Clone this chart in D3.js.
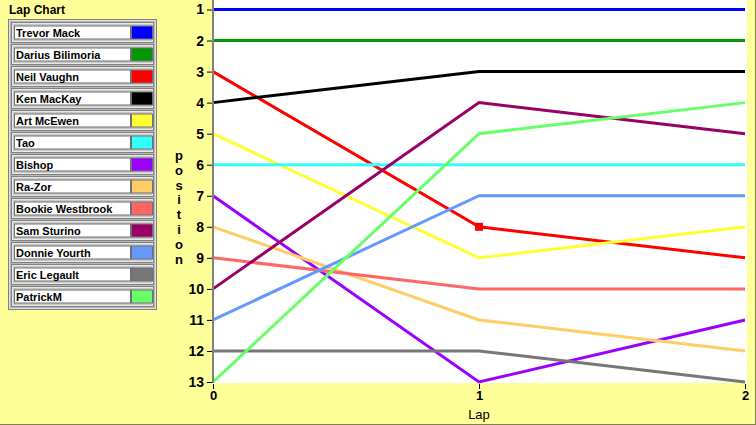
<!DOCTYPE html>
<html><head><meta charset="utf-8">
<script src="https://cdn.jsdelivr.net/npm/d3@7"></script>
<style>
html,body{margin:0;padding:0;background:#FFFF99;}
svg{display:block;}
text{font-family:"Liberation Sans",Arial,sans-serif;}
</style></head>
<body>
<svg id="c" width="756" height="425"></svg>
<script>
const drivers = ["Trevor Mack","Darius Bilimoria","Neil Vaughn","Ken MacKay","Art McEwen","Tao","Bishop","Ra-Zor","Bookie Westbrook","Sam Sturino","Donnie Yourth","Eric Legault","PatrickM"];
const colors = ["#0000FF","#009900","#FF0000","#000000","#FFFF33","#33FFFF","#9900FF","#FFCC66","#FF6666","#990066","#6699FF","#777777","#66FF66"];
const laps = [0,1,2];
const positions = [
  [1,1,1],
  [2,2,2],
  [3,8,9],
  [4,3,3],
  [5,9,8],
  [6,6,6],
  [7,13,11],
  [8,11,12],
  [9,10,10],
  [10,4,5],
  [11,7,7],
  [12,12,13],
  [13,5,4]
];
const yTicks = [1,2,3,4,5,6,7,8,9,10,11,12,13];
const xTicks = [0,1,2];
const marker = {driver:"Neil Vaughn", lap:1};

const svg = d3.select("#c");
svg.append("rect").attr("width",756).attr("height",425).attr("fill","#FFFF99");
svg.append("line").attr("x1",0).attr("x2",756).attr("y1",424.5).attr("y2",424.5).attr("stroke","#7F7F50");
svg.append("line").attr("x1",755.5).attr("x2",755.5).attr("y1",0).attr("y2",425).attr("stroke","#7F7F50");

const x = d3.scaleLinear().domain([0,2]).range([213,745]);
const y = d3.scaleLinear().domain([1,13]).range([9.5,382]);

svg.append("rect").attr("x",213).attr("y",0).attr("width",534).attr("height",383).attr("fill","#FFFFFF");

const line = d3.line().x((d,i)=>x(laps[i])).y(d=>y(d));
drivers.forEach((d,i)=>{
  svg.append("path").attr("d",line(positions[i])).attr("fill","none")
    .attr("stroke",colors[i]).attr("stroke-width",3);
});
const mi = drivers.indexOf(marker.driver);
svg.append("rect").attr("x",x(marker.lap)-4).attr("y",y(positions[mi][marker.lap])-4)
  .attr("width",8).attr("height",8).attr("fill",colors[mi]);

const yAxis = d3.axisLeft(y).tickValues(yTicks).tickSize(6).tickPadding(3).tickFormat(d3.format("d"));
const ga = svg.append("g").attr("transform","translate(213,0)").call(yAxis);
ga.select(".domain").remove();
ga.selectAll("line").attr("stroke","#000");
ga.selectAll("text").attr("font-size",14).attr("font-weight","bold").attr("fill","#000").attr("font-family","Liberation Sans");
svg.append("line").attr("x1",213).attr("x2",213).attr("y1",0).attr("y2",383).attr("stroke","#808080").attr("stroke-width",2);

const xAxis = d3.axisBottom(x).tickValues(xTicks).tickSize(5).tickPadding(2).tickFormat(d3.format("d"));
const gx = svg.append("g").attr("transform","translate(0,384)").call(xAxis);
gx.select(".domain").remove();
gx.selectAll("line").attr("stroke","#000");
gx.selectAll("text").attr("font-size",13).attr("font-weight","bold").attr("fill","#000").attr("font-family","Liberation Sans");

svg.append("text").attr("x",x(1)).attr("y",419).attr("text-anchor","middle").attr("font-size",13).text("Lap");
const word = "position";
word.split("").forEach((ch,i)=>{
  svg.append("text").attr("x",179).attr("y",160+i*14.8).attr("text-anchor","middle")
    .attr("font-size",13).attr("font-weight","bold").text(ch);
});

svg.append("text").attr("x",9).attr("y",14).attr("font-size",12).attr("font-weight","bold").text("Lap Chart");
const lg = svg.append("g");
lg.append("rect").attr("x",8.5).attr("y",19.5).attr("width",148).attr("height",290).attr("fill","#B8B8B8").attr("stroke","#808080");
lg.append("rect").attr("x",9.5).attr("y",20.5).attr("width",146).attr("height",288).attr("fill","none").attr("stroke","#E0E0E0");
drivers.forEach((d,i)=>{
  const ry = 22 + i*22;
  lg.append("rect").attr("x",11.5).attr("y",ry+0.5).attr("width",142).attr("height",20).attr("fill","#C8C8C8").attr("stroke","#808080");
  lg.append("rect").attr("x",12.5).attr("y",ry+1.5).attr("width",140).attr("height",18).attr("fill","none").attr("stroke","#E8E8E8");
  lg.append("rect").attr("x",14.5).attr("y",ry+4).attr("width",116).attr("height",13).attr("fill","#FFFFFF").attr("stroke","#707070");
  lg.append("rect").attr("x",131.5).attr("y",ry+4).attr("width",21).attr("height",13).attr("fill",colors[i]).attr("stroke","#707070");
  lg.append("text").attr("x",16).attr("y",ry+15).attr("font-size",11).attr("font-weight","bold").text(d);
});
</script>
</body></html>
